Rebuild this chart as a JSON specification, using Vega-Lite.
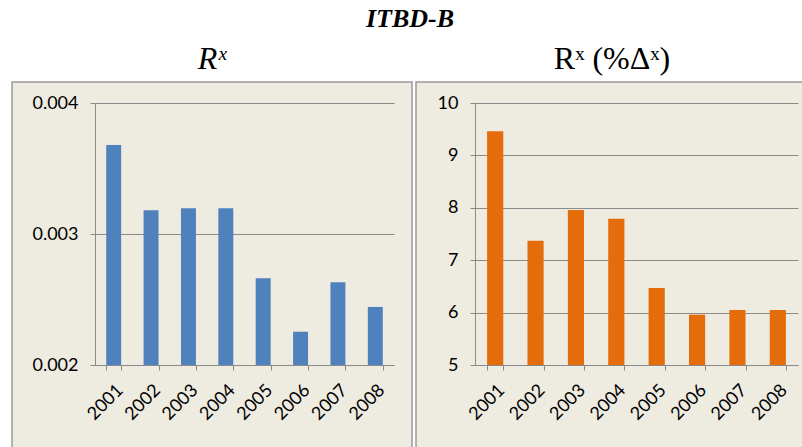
{
  "$schema": "https://vega.github.io/schema/vega-lite/v6.json",
  "background": "white",
  "padding": {"left": 11, "top": 6, "right": 0, "bottom": 0},
  "title": {"text": "ITBD-B", "font": "Liberation Serif", "fontSize": 26, "fontWeight": "bold", "fontStyle": "italic", "anchor": "middle", "color": "black", "offset": 10},
  "spacing": 2,
  "datasets": {
    "rx": [
      {"year": "2001", "value": 0.00368},
      {"year": "2002", "value": 0.003181},
      {"year": "2003", "value": 0.003196},
      {"year": "2004", "value": 0.003196},
      {"year": "2005", "value": 0.002662},
      {"year": "2006", "value": 0.002254},
      {"year": "2007", "value": 0.002631},
      {"year": "2008", "value": 0.002443}
    ],
    "pct": [
      {"year": "2001", "value": 9.46},
      {"year": "2002", "value": 7.37},
      {"year": "2003", "value": 7.96},
      {"year": "2004", "value": 7.79},
      {"year": "2005", "value": 6.47},
      {"year": "2006", "value": 5.96},
      {"year": "2007", "value": 6.05},
      {"year": "2008", "value": 6.05}
    ]
  },
  "hconcat": [
    {
      "width": 400,
      "height": 370,
      "title": {"text": "Rˣ", "fontStyle": "italic"},
      "data": {"name": "rx"},
      "mark": {"type": "bar", "color": "#4F81BD"},
      "encoding": {
        "x": {
          "field": "year", "type": "ordinal",
          "scale": {"range": [83, 382], "paddingInner": 0.6, "paddingOuter": 0.3},
          "axis": {"offset": -87, "labelAngle": -45, "tickBand": "extent", "title": null, "grid": false, "labelPadding": 11}
        },
        "y": {
          "field": "value", "type": "quantitative",
          "scale": {"domain": [0.002, 0.004], "range": [283, 21], "zero": false, "nice": false},
          "axis": {"offset": -83, "values": [0.002, 0.003, 0.004], "format": ".3f", "title": null, "grid": true, "labelPadding": 12}
        },
        "y2": {"datum": 0.002}
      }
    },
    {
      "width": 392,
      "height": 370,
      "title": {"text": "Rˣ (%Δˣ)"},
      "data": {"name": "pct"},
      "mark": {"type": "bar", "color": "#E46C0A"},
      "encoding": {
        "x": {
          "field": "year", "type": "ordinal",
          "scale": {"range": [59, 382], "paddingInner": 0.6, "paddingOuter": 0.3},
          "axis": {"offset": -87, "labelAngle": -45, "tickBand": "extent", "title": null, "grid": false, "labelPadding": 11}
        },
        "y": {
          "field": "value", "type": "quantitative",
          "scale": {"domain": [5, 10], "range": [283, 21], "zero": false, "nice": false},
          "axis": {"offset": -59, "values": [5, 6, 7, 8, 9, 10], "format": "d", "title": null, "grid": true, "labelPadding": 12}
        },
        "y2": {"datum": 5}
      }
    }
  ],
  "config": {
    "view": {"fill": "#EEEBE0", "stroke": "#9A9A9A", "strokeWidth": 1.5},
    "title": {"font": "Liberation Serif", "fontSize": 32, "fontWeight": "normal", "color": "black", "offset": 6},
    "axis": {
      "labelFont": "Lato", "labelFontSize": 18, "labelColor": "black",
      "domainColor": "#8A8A8A", "tickColor": "#8A8A8A", "gridColor": "#8A8A8A",
      "tickSize": 5, "labelPadding": 8, "domainWidth": 1, "gridWidth": 1
    }
  }
}
